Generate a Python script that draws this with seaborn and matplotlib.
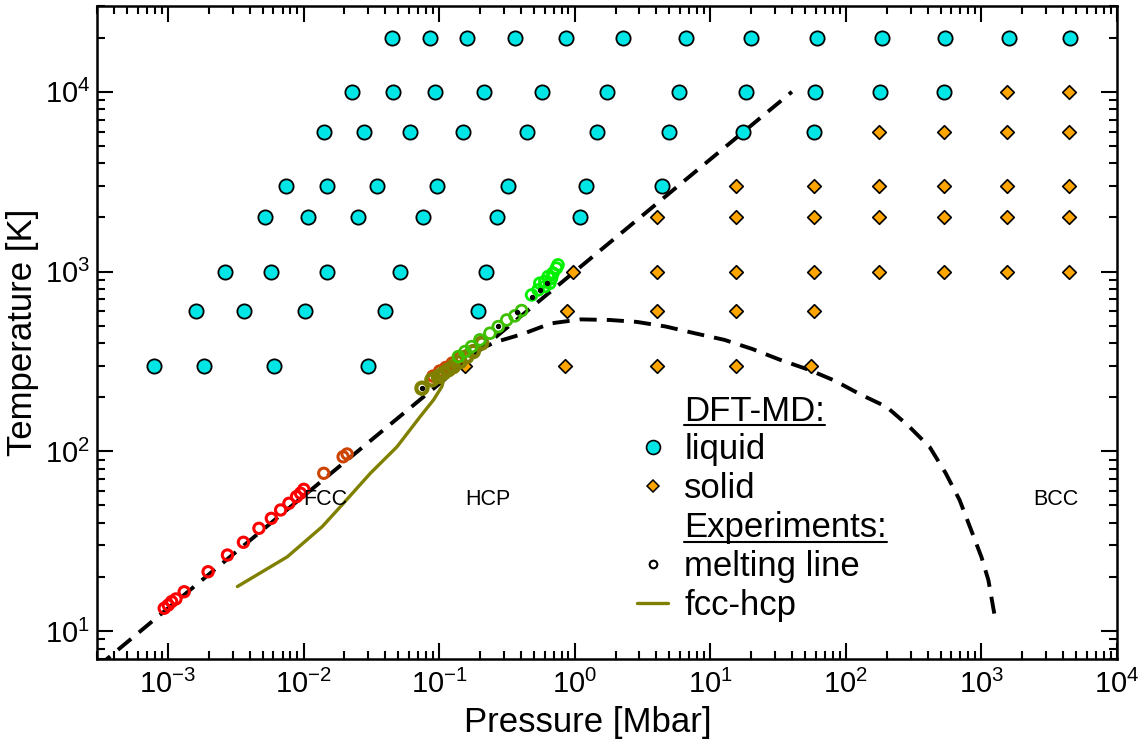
import numpy as np
import pandas as pd
import matplotlib
matplotlib.use("Agg")
import matplotlib.pyplot as plt
import seaborn as sns
from matplotlib.lines import Line2D
from matplotlib.ticker import LogLocator, NullFormatter

# ---------------- data ----------------
# DFT-MD liquid (pressure in Mbar per temperature row)
liq_T = [20000, 10000, 6000, 3000, 2000, 1000, 600, 300]
liq_P = [
    [0.045, 0.086, 0.16, 0.362, 0.86, 2.29, 6.66, 20, 61, 184, 535, 1607, 4510],
    [0.0229, 0.0459, 0.0935, 0.214, 0.572, 1.72, 5.92, 18.4, 59.2, 178, 525],
    [0.01427, 0.0281, 0.0612, 0.150, 0.444, 1.45, 5.0, 17.5, 58.2],
    [0.00738, 0.0150, 0.035, 0.0966, 0.321, 1.205, 4.44],
    [0.00517, 0.0107, 0.0254, 0.0763, 0.267, 1.09],
    [0.00262, 0.00572, 0.015, 0.0517, 0.222],
    [0.00161, 0.00362, 0.0102, 0.0401, 0.194],
    [0.000789, 0.00184, 0.00602, 0.0301],
]
# DFT-MD solid
sol_T = [10000, 6000, 3000, 2000, 1000, 600, 300]
sol_P = [
    [1550, 4440],
    [175, 525, 1550, 4440],
    [15.5, 58.2, 175, 525, 1550, 4440],
    [4.07, 15.5, 58.2, 175, 525, 1550, 4440],
    [0.966, 4.07, 15.5, 58.2, 175, 525, 1550, 4440],
    [0.873, 4.07, 15.5, 58.2],
    [0.155, 0.844, 4.07, 15.5, 55.3],
]

# experimental melting data sets
red_P = [0.000939, 0.001005, 0.001065, 0.001145, 0.001318, 0.001978, 0.002748, 0.003603,
         0.00469, 0.00579, 0.00678, 0.0078, 0.00888, 0.0095, 0.01005]
red_T = [13.4, 13.96, 14.6, 15.1, 16.56, 21.4, 26.5, 31.2, 37.3, 42.4, 47.2, 51.4, 56.0, 58.5, 61.5]
orange_P = [0.0141, 0.01958, 0.02095, 0.09, 0.101, 0.112, 0.125, 0.143]
orange_T = [75.5, 93.3, 96.7, 262, 280, 293, 310, 335]
olive_P = [0.0747, 0.0884, 0.0988, 0.1076, 0.117, 0.1274, 0.1426, 0.16, 0.1787, 0.206]
olive_T = [224.5, 249.6, 260.5, 272, 284, 296, 315.5, 336.5, 359, 400]
green_P = [0.1387, 0.1553, 0.1738, 0.2, 0.237, 0.273, 0.315, 0.362, 0.406]
green_T = [336.5, 359, 382.5, 417, 454, 494, 538, 567, 607]
lime_P = [0.481, 0.537, 0.553, 0.602, 0.602, 0.655, 0.637, 0.674, 0.692, 0.733, 0.753]
lime_T = [741, 791, 861, 826, 880, 861, 938, 918, 980, 1045, 1089]
black_P = [0.0747, 0.272, 0.375, 0.483, 0.553, 0.622]
black_T = [225, 499, 597, 723, 791, 865]

# fcc-hcp boundary
fcchcp_P = [0.003253, 0.00759, 0.01372, 0.0187, 0.0311, 0.0489, 0.0725, 0.0908, 0.1047, 0.1107, 0.1125]
fcchcp_T = [17.7, 25.9, 38.1, 49.2, 75.5, 106, 156, 193, 229, 266, 291]

# melting line (dashed)
melt_P = [3e-4, 1e-3, 1e-2, 1e-1, 1, 10, 40]
melt_T = [6.3, 13.4, 56.4, 237, 1000, 4210, 10000]

# hcp-bcc boundary (dashed)
bcc_P = [0.187, 0.2624, 0.415, 0.667, 1.107, 1.807, 2.86, 4.67, 7.76, 12.7, 20.4, 32.7, 53.5,
         83, 126.8, 200, 290, 415, 543, 689, 844, 1000, 1125, 1268]
bcc_T = [362, 406, 450, 515, 542, 538, 525, 495, 453, 417, 371, 323, 284, 247, 208, 176.6,
         138.4, 105.7, 75.9, 53.7, 36.1, 25.8, 19.2, 11.5]

phase_labels = ["FCC", "HCP", "BCC"]
phase_P = [0.01452, 0.229, 3560]
phase_T = [53.7, 53.7, 53.7]

# ---------------- style ----------------
sns.set_style("ticks")
plt.rcParams["font.family"] = ["Liberation Sans", "DejaVu Sans"]
plt.rcParams["mathtext.fontset"] = "custom"
plt.rcParams["mathtext.rm"] = "Liberation Sans"
plt.rcParams["mathtext.it"] = "Liberation Sans:italic"
plt.rcParams["mathtext.bf"] = "Liberation Sans:bold"
plt.rcParams["mathtext.sf"] = "Liberation Sans"
plt.rcParams["axes.unicode_minus"] = False
for k in ["text.color", "axes.labelcolor", "xtick.color", "ytick.color",
          "xtick.labelcolor", "ytick.labelcolor", "axes.edgecolor"]:
    plt.rcParams[k] = "black"

fig = plt.figure(figsize=(11.43, 7.42), dpi=100)
ax = fig.add_axes([0.0849, 0.1119, 0.9773 - 0.0849, 0.9919 - 0.1119])

liq_df = pd.DataFrame({"P": [p for row in liq_P for p in row],
                       "T": [t for t, row in zip(liq_T, liq_P) for _ in row]})
sol_df = pd.DataFrame({"P": [p for row in sol_P for p in row],
                       "T": [t for t, row in zip(sol_T, sol_P) for _ in row]})

dash = (4.4, 2.6)
sns.lineplot(x=melt_P, y=melt_T, ax=ax, color="black", lw=2.8, sort=False,
             estimator=None, zorder=2).lines[-1].set_dashes(dash)
sns.lineplot(x=bcc_P, y=bcc_T, ax=ax, color="black", lw=2.8, sort=False,
             estimator=None, zorder=2).lines[-1].set_dashes(dash)

sns.scatterplot(data=liq_df, x="P", y="T", ax=ax, marker="o", s=105, color="#00e5e5",
                edgecolor="black", linewidth=1.3, zorder=3)
sns.scatterplot(data=sol_df, x="P", y="T", ax=ax, marker="D", s=48, color="#ffa500",
                edgecolor="black", linewidth=1.2, zorder=3)

sns.lineplot(x=fcchcp_P, y=fcchcp_T, ax=ax, color="#808000", lw=2.4, sort=False,
             estimator=None, zorder=4)

def exp_points(P, T, col, size, lw, z):
    ax.scatter(P, T, s=size, facecolors="none", edgecolors=col, linewidths=lw, zorder=z)

exp_points(red_P, red_T, "#ff0000", 55, 2.2, 5)
exp_points(orange_P, orange_T, "#cc4400", 55, 2.2, 5)
exp_points(olive_P, olive_T, "#808000", 65, 3.0, 6)
exp_points(green_P, green_T, "#3dc000", 60, 2.0, 7)
exp_points(lime_P, lime_T, "#00f000", 60, 2.0, 7)
ax.scatter(black_P, black_T, s=8, color="black", zorder=8)

for lab, p, t in zip(phase_labels, phase_P, phase_T):
    ax.text(p, t, lab, fontsize=15.5, ha="center", va="center", zorder=9)

ax.set_xscale("log")
ax.set_yscale("log")
ax.set_xlim(3e-4, 1e4)
ax.set_ylim(7, 30000)
ax.xaxis.set_major_locator(LogLocator(base=10, numticks=20))
ax.xaxis.set_minor_locator(LogLocator(base=10, subs=np.arange(2, 10), numticks=20))
ax.yaxis.set_major_locator(LogLocator(base=10, numticks=20))
ax.yaxis.set_minor_locator(LogLocator(base=10, subs=np.arange(2, 10), numticks=20))
ax.xaxis.set_minor_formatter(NullFormatter())
ax.yaxis.set_minor_formatter(NullFormatter())

ax.tick_params(which="both", direction="in", top=True, right=True, width=1.5, color="black")
ax.tick_params(which="major", length=11.5, labelsize=21, pad=8)
ax.tick_params(which="minor", length=5.8)
ax.tick_params(axis="y", which="major", pad=5)
for sp in ax.spines.values():
    sp.set_linewidth(1.8)
    sp.set_color("black")

ax.set_xlabel("Pressure [Mbar]", fontsize=25)
ax.set_ylabel("Temperature [K]", fontsize=25, labelpad=4)
ax.xaxis.set_label_coords(0.481, -0.072)

# legend
h_head = Line2D([], [], linestyle="none")
h_liq = Line2D([], [], linestyle="none", marker="o", markersize=10, markerfacecolor="#00e5e5",
               markeredgecolor="black", markeredgewidth=1.2)
h_sol = Line2D([], [], linestyle="none", marker="D", markersize=6.5, markerfacecolor="#ffa500",
               markeredgecolor="black", markeredgewidth=1.1)
h_melt = Line2D([], [], linestyle="none", marker="o", markersize=5.5, markerfacecolor="none",
                markeredgecolor="black", markeredgewidth=1.5)
h_fh = Line2D([], [], color="#808000", lw=2.4)
labels = ["DFT-MD:", "liquid", "solid", "Experiments:", "melting line", "fcc-hcp"]
leg = ax.legend([h_head, h_liq, h_sol, h_head, h_melt, h_fh], labels,
                loc="upper left", bbox_to_anchor=(0.5294, 0.405), frameon=False,
                fontsize=25, handlelength=0.9, handletextpad=0.46, labelspacing=0.17,
                borderpad=0.0, borderaxespad=0.0)

fig.canvas.draw()
renderer = fig.canvas.get_renderer()
inv = fig.transFigure.inverted()
for t in leg.get_texts():
    if t.get_text().endswith(":"):
        bb = t.get_window_extent(renderer)
        (x0, y0), (x1, _) = inv.transform([(bb.x0, bb.y0 + 2.5), (bb.x1, bb.y0)])
        fig.add_artist(Line2D([x0, x1], [y0, y0], color="black", lw=1.5,
                              transform=fig.transFigure))

fig.savefig("out.png", dpi=100)
